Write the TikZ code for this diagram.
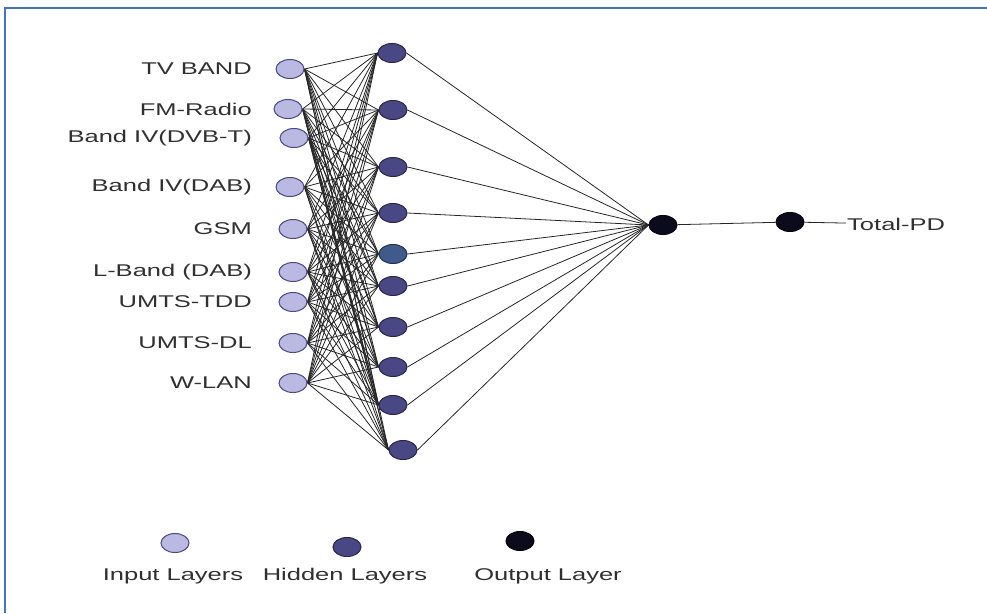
\documentclass[tikz,border=0pt]{standalone}
\usepackage{fontspec}
\setmainfont[FakeStretch=1.5]{Liberation Sans}
\usetikzlibrary{shapes.geometric, backgrounds}
\definecolor{cinput}{HTML}{B9B9E2}
\definecolor{chidden}{HTML}{4A4785}
\definecolor{chidblue}{HTML}{3E5B8C}
\definecolor{cout}{HTML}{0B0B1C}
\definecolor{cframe}{HTML}{4472C4}
\definecolor{ctext}{HTML}{303030}
\tikzset{
  every picture/.style={font=\fontsize{17}{20}\selectfont, x=1pt, y=-1pt},
  neuron/.style={ellipse, draw=#1!55!black, fill=#1, line width=1pt, minimum width=28pt, minimum height=19pt, inner sep=0pt},
  neuron/.default=chidden,
  wire/.style={draw=black!85, line width=0.8pt},
  lbl/.style={text=ctext, inner sep=1pt},
  frame/.style={draw=cframe, line width=2pt},
}
\begin{document}
\begin{tikzpicture}
  \useasboundingbox (0,0) rectangle (987,613);
  \draw[frame] (5,613) -- (5,8) -- (987,8);
  % input layer
  \foreach \n/\x/\y/\t in {1/290/69/TV BAND, 2/288/109/FM-Radio, 3/294/138/Band IV(DVB-T), 4/290/187/Band IV(DAB), 5/293/229/GSM,
      6/293/272/L-Band (DAB), 7/293/302/UMTS-TDD, 8/293/343/UMTS-DL, 9/293/383/W-LAN} {
    \node[neuron=cinput, draw=chidden] (in\n) at (\x,\y) {};
    \node[lbl, anchor=east] (lin\n) at (253,\y) {\t};
  }
  % hidden layer
  \foreach \n/\x/\y/\c in {1/392/53/chidden, 2/393/110/chidden, 3/393/167/chidden, 4/393/213/chidden, 5/393/254/chidblue,
      6/393/286/chidden, 7/393/327/chidden, 8/393/367/chidden, 9/393/405/chidden, 10/403/450/chidden}
    \node[neuron=\c] (hid\n) at (\x,\y) {};
  % output
  \node[neuron=cout] (out1) at (663,225) {};
  \node[neuron=cout] (out2) at (790,222) {};
  \node[lbl, anchor=west] (tpd) at (846,224) {Total-PD};
  \begin{scope}[on background layer]
    \foreach \i in {1,...,9}
      \foreach \j in {1,...,10}
        \draw[wire] (in\i.east) -- (hid\j.west);
    \foreach \j in {1,...,10} \draw[wire] (hid\j.east) -- (out1.west);
  \end{scope}
  \draw[wire] (out1) -- (out2);
  \draw[wire] (out2) -- (tpd);
  % legend
  \node[neuron=cinput, draw=chidden] (legin) at (175,543) {};
  \node[neuron] (leghid) at (347,547) {};
  \node[neuron=cout] (legout) at (520,541) {};
  \node[lbl] (tlegin) at (173,576) {Input Layers};
  \node[lbl] (tleghid) at (345,576) {Hidden Layers};
  \node[lbl] (tlegout) at (548,576) {Output Layer};
\end{tikzpicture}
\end{document}
